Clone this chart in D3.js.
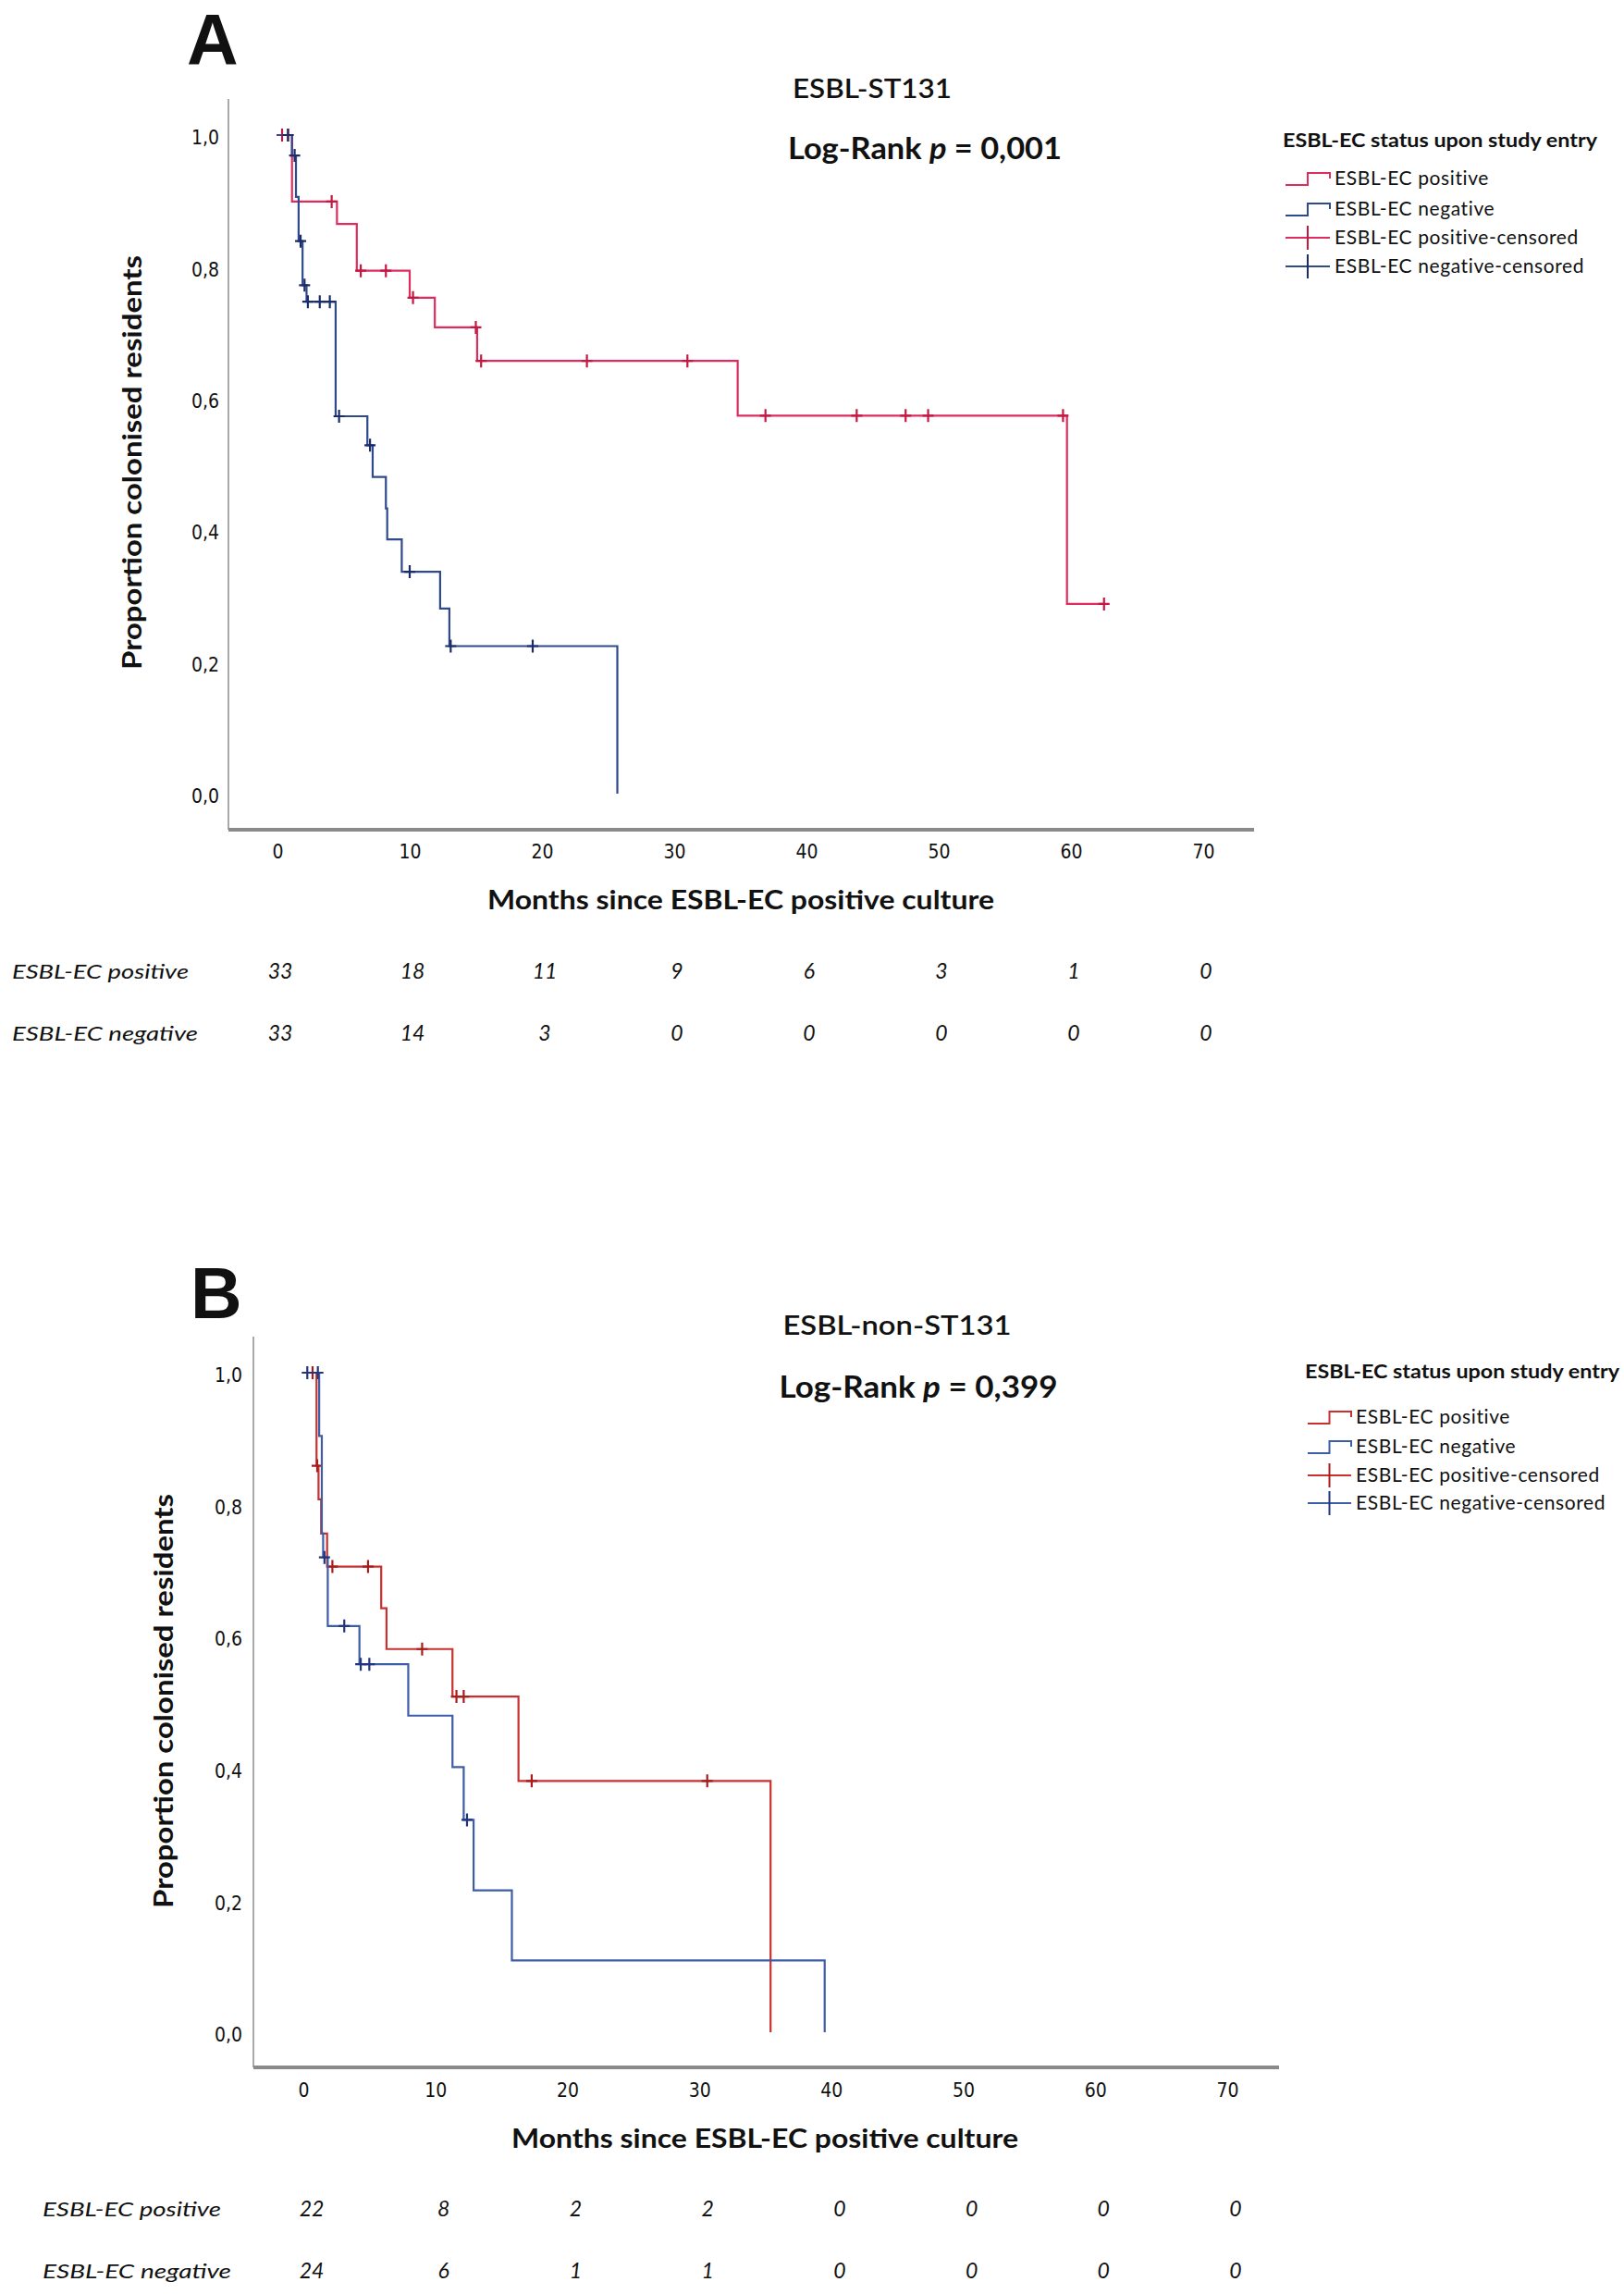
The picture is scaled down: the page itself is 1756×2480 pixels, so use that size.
<!DOCTYPE html>
<html>
<head>
<meta charset="utf-8">
<script src="https://cdn.jsdelivr.net/npm/d3@7"></script>
<style>
  body { margin: 0; background: #fff; }
  svg text { font-family: Lato, "Open Sans", sans-serif; fill: #111; }
</style>
</head>
<body>
<div id="chart"></div>
<script>
// Axis ticks
const monthTicks = [0, 10, 20, 30, 40, 50, 60, 70];
const proportionTicks = [0, 0.2, 0.4, 0.6, 0.8, 1.0];
const groupNames = ["ESBL-EC positive", "ESBL-EC negative"];
const legendTitle = "ESBL-EC status upon study entry";
const legendLabels = ["ESBL-EC positive", "ESBL-EC negative", "ESBL-EC positive-censored", "ESBL-EC negative-censored"];

// Panel A: ESBL-ST131 (months, proportion still colonised)
const st131PosTime = [0, 1.1, 4.5, 6.0, 10.0, 11.9, 15.1, 34.8, 59.7];
const st131PosSurv = [1.0, 0.899, 0.865, 0.794, 0.753, 0.708, 0.657, 0.574, 0.288];
const st131PosEnd = 62.5;
const st131PosCensored = [0.35, 0.8, 4.1, 6.3, 8.2, 10.25, 15.0, 15.4, 23.4, 31.0, 36.9, 43.8, 47.5, 49.2, 59.4, 62.5];

const st131NegTime = [0, 1.1, 1.4, 1.6, 1.9, 2.2, 4.4, 6.8, 7.2, 8.2, 8.3, 9.4, 12.3, 13.0, 25.7];
const st131NegSurv = [1.0, 0.969, 0.906, 0.839, 0.772, 0.747, 0.573, 0.529, 0.481, 0.433, 0.386, 0.337, 0.281, 0.224, 0];
const st131NegEnd = 25.7;
const st131NegCensored = [0.8, 1.3, 1.75, 2.05, 2.3, 3.2, 3.96, 4.66, 7.0, 10.0, 13.1, 19.3];

const st131RiskPos = [33, 18, 11, 9, 6, 3, 1, 0];
const st131RiskNeg = [33, 14, 3, 0, 0, 0, 0, 0];

// Panel B: ESBL-non-ST131
const nonPosTime = [0, 1.0, 1.15, 1.35, 1.8, 5.9, 6.3, 11.3, 16.3, 35.4];
const nonPosSurv = [1.0, 0.859, 0.808, 0.756, 0.706, 0.643, 0.581, 0.509, 0.381, 0];
const nonPosEnd = 35.4;
const nonPosCensored = [0.7, 1.05, 2.2, 4.9, 9.0, 11.6, 12.15, 17.3, 30.6];

const nonNegTime = [0, 1.2, 1.4, 1.5, 1.85, 4.25, 7.95, 11.3, 12.15, 12.9, 15.8, 39.5];
const nonNegSurv = [1.0, 0.904, 0.756, 0.72, 0.616, 0.558, 0.480, 0.402, 0.322, 0.215, 0.109, 0];
const nonNegEnd = 39.5;
const nonNegCensored = [0.3, 1.1, 1.6, 3.1, 4.35, 5.0, 12.4];

const nonRiskPos = [22, 8, 2, 2, 0, 0, 0, 0];
const nonRiskNeg = [24, 6, 1, 1, 0, 0, 0, 0];

const width = 1756, height = 2480;
const svg = d3.select("#chart").append("svg")
  .attr("width", width).attr("height", height)
  .attr("viewBox", [0, 0, width, height]);

const panels = [
  {
    letter: "A", letterX: 202, letterY: 70,
    title: "ESBL-ST131", titleX: 943, titleY: 106, titleLen: 172,
    pValue: "0,001", pX: 1000, pY: 172, pLen: 296,
    xRange: [300, 1301], yRange: [858, 146],
    axisX: 247, axisTop: 107, axisY: 897, axisRight: 1356,
    xPad: 16, yPad: 10,
    yLabelX: 153, yLabelY: 500,
    xLabelX: 801, xLabelY: 983,
    legendX: 1387, legendY: 159, legendRows: [193, 226, 257, 288], symbolW: 48, legendEnd: 1720,
    riskLabelX: 13, riskY: [1058, 1125], riskLen: [191, 201], riskOffset: 3,
    pos: {time: st131PosTime, surv: st131PosSurv, end: st131PosEnd, cens: st131PosCensored, risk: st131RiskPos, color: "#df2c5e", mark: "#c41843"},
    neg: {time: st131NegTime, surv: st131NegSurv, end: st131NegEnd, cens: st131NegCensored, risk: st131RiskNeg, color: "#2f4a8c", mark: "#1c2c6a"}
  },
  {
    letter: "B", letterX: 206, letterY: 1425,
    title: "ESBL-non-ST131", titleX: 970, titleY: 1443, titleLen: 247,
    pValue: "0,399", pX: 993, pY: 1511, pLen: 301,
    xRange: [328, 1327], yRange: [2197, 1484],
    axisX: 274, axisTop: 1445, axisY: 2235, axisRight: 1383,
    xPad: 17, yPad: 12,
    yLabelX: 187, yLabelY: 1839,
    xLabelX: 827, xLabelY: 2322,
    legendX: 1411, legendY: 1490, legendRows: [1532, 1564, 1595, 1625], symbolW: 47, legendEnd: 1746,
    riskLabelX: 46, riskY: [2396, 2463], riskLen: [193, 204], riskOffset: 9,
    pos: {time: nonPosTime, surv: nonPosSurv, end: nonPosEnd, cens: nonPosCensored, risk: nonRiskPos, color: "#c9302e", mark: "#a81c1c"},
    neg: {time: nonNegTime, surv: nonNegSurv, end: nonNegEnd, cens: nonNegCensored, risk: nonRiskNeg, color: "#3d5da6", mark: "#22367e"}
  }
];

const fmt = d => d3.format(".1f")(d).replace(".", ",");
const tickFont = '"Liberation Sans Narrow", "DejaVu Sans Condensed", Roboto, sans-serif';

const drawPanel = p => {
  const x = d3.scaleLinear().domain([0, 70]).range(p.xRange);
  const y = d3.scaleLinear().domain([0, 1]).range(p.yRange);
  const g = svg.append("g");

  // panel letter
  g.append("text")
    .attr("x", p.letterX).attr("y", p.letterY)
    .style("font-family", '"Liberation Sans", Arial, sans-serif')
    .style("font-weight", 700).style("font-size", "77px")
    .text(p.letter);

  // title and log-rank
  g.append("text")
    .attr("x", p.titleX).attr("y", p.titleY)
    .attr("text-anchor", "middle")
    .attr("textLength", p.titleLen).attr("lengthAdjust", "spacingAndGlyphs")
    .style("font-size", "28px").style("font-weight", 600)
    .text(p.title);

  const lr = g.append("text")
    .attr("x", p.pX).attr("y", p.pY)
    .attr("text-anchor", "middle")
    .attr("textLength", p.pLen).attr("lengthAdjust", "spacingAndGlyphs")
    .style("font-size", "32px").style("font-weight", 700);
  lr.append("tspan").text("Log-Rank ");
  lr.append("tspan").style("font-style", "italic").text("p");
  lr.append("tspan").text(" = " + p.pValue);

  // axis lines
  g.append("line")
    .attr("x1", p.axisX).attr("x2", p.axisX)
    .attr("y1", p.axisTop).attr("y2", p.axisY)
    .attr("stroke", "#a9a9a9").attr("stroke-width", 2);
  g.append("line")
    .attr("x1", p.axisX).attr("x2", p.axisRight)
    .attr("y1", p.axisY).attr("y2", p.axisY)
    .attr("stroke", "#8a8a8a").attr("stroke-width", 4);

  // tick labels
  const yAxis = g.append("g")
    .attr("transform", `translate(${p.axisX},3)`)
    .call(d3.axisLeft(y).tickValues(proportionTicks).tickFormat(fmt).tickSize(0).tickPadding(p.yPad));
  const xAxis = g.append("g")
    .attr("transform", `translate(0,${p.axisY})`)
    .call(d3.axisBottom(x).tickValues(monthTicks).tickSize(0).tickPadding(p.xPad));
  [yAxis, xAxis].forEach(a => {
    a.select(".domain").remove();
    a.selectAll("text")
      .style("font-family", tickFont)
      .style("font-size", "21px")
      .attr("fill", "#222");
  });

  // axis labels
  g.append("text")
    .attr("transform", `translate(${p.yLabelX},${p.yLabelY}) rotate(-90)`)
    .attr("text-anchor", "middle")
    .attr("textLength", 448).attr("lengthAdjust", "spacingAndGlyphs")
    .style("font-size", "28px").style("font-weight", 700)
    .text("Proportion colonised residents");
  g.append("text")
    .attr("x", p.xLabelX).attr("y", p.xLabelY)
    .attr("text-anchor", "middle")
    .attr("textLength", 548).attr("lengthAdjust", "spacingAndGlyphs")
    .style("font-size", "28px").style("font-weight", 700)
    .text("Months since ESBL-EC positive culture");

  // survival step curves
  const line = d3.line().x(d => x(d[0])).y(d => y(d[1])).curve(d3.curveStepAfter);
  [p.pos, p.neg].forEach(s => {
    const pts = s.time.map((t, i) => [t, s.surv[i]]);
    if (s.surv[s.surv.length - 1] > 0) pts.push([s.end, s.surv[s.surv.length - 1]]);
    g.append("path")
      .datum(pts)
      .attr("fill", "none")
      .attr("stroke", s.color)
      .attr("stroke-width", 2.2)
      .attr("d", line);

    // censored marks
    g.selectAll(null)
      .data(s.cens)
      .join("path")
        .attr("fill", "none")
        .attr("stroke", s.mark)
        .attr("stroke-width", 2.2)
        .attr("d", t => {
          const v = s.surv[d3.bisectRight(s.time, t) - 1];
          const cx = x(t), cy = y(v);
          return `M${cx - 6},${cy}H${cx + 6}M${cx},${cy - 7}V${cy + 7}`;
        });
  });

  // legend
  const lg = g.append("g");
  lg.append("text")
    .attr("x", p.legendX).attr("y", p.legendY)
    .attr("textLength", 340).attr("lengthAdjust", "spacingAndGlyphs")
    .style("font-size", "21px").style("font-weight", 700)
    .text(legendTitle);
  const items = [
    {kind: "step", color: p.pos.color},
    {kind: "step", color: p.neg.color},
    {kind: "cens", color: p.pos.color, mark: p.pos.mark},
    {kind: "cens", color: p.neg.color, mark: p.neg.mark}
  ];
  items.forEach((it, i) => {
    const ry = p.legendRows[i];
    const x0 = p.legendX + 3, x1 = x0 + p.symbolW;
    if (it.kind === "step") {
      const xm = x0 + p.symbolW * 0.5;
      lg.append("path")
        .attr("fill", "none").attr("stroke", it.color).attr("stroke-width", 2)
        .attr("d", `M${x0},${ry + 7}H${xm}V${ry - 6}H${x1}V${ry}`);
    } else {
      const xm = x0 + p.symbolW * 0.5;
      lg.append("path")
        .attr("fill", "none").attr("stroke", it.color).attr("stroke-width", 2)
        .attr("d", `M${x0},${ry}H${x1}`);
      lg.append("path")
        .attr("fill", "none").attr("stroke", it.mark).attr("stroke-width", 2)
        .attr("d", `M${xm},${ry - 13}V${ry + 13}`);
    }
    lg.append("text")
      .attr("x", x1 + 5).attr("y", ry + 7)
      .style("font-size", "21px")
      .style("letter-spacing", "0.6px")
      .attr("fill", "#222")
      .text(legendLabels[i]);
  });

  // numbers at risk
  [p.pos, p.neg].forEach((s, i) => {
    g.append("text")
      .attr("x", p.riskLabelX).attr("y", p.riskY[i])
      .attr("textLength", p.riskLen[i]).attr("lengthAdjust", "spacingAndGlyphs")
      .style("font-size", "22px").style("font-style", "italic")
      .text(groupNames[i]);
    g.selectAll(null)
      .data(s.risk)
      .join("text")
        .attr("x", (d, j) => x(monthTicks[j]) + p.riskOffset)
        .attr("y", p.riskY[i])
        .attr("text-anchor", "middle")
        .style("font-size", "23px").style("font-style", "italic")
        .text(d => d);
  });
};

panels.forEach(drawPanel);
</script>
</body>
</html>
